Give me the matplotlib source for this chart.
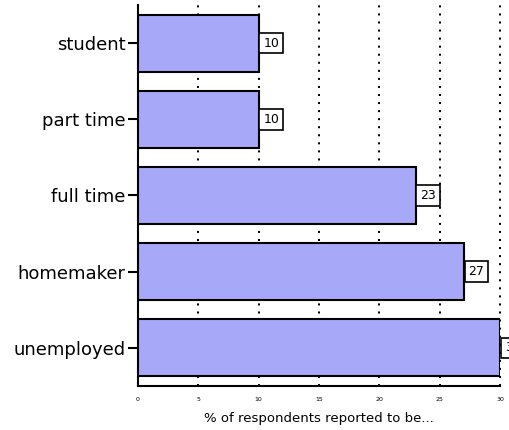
import matplotlib
matplotlib.use("Agg")
import matplotlib.pyplot as plt

# respondent categories, top to bottom
categories = ["student", "part time", "full time", "homemaker", "unemployed"]
percents = [10, 10, 23, 27, 30]
xticks = [0, 5, 10, 15, 20, 25, 30]

fig = plt.figure(figsize=(5.1, 4.3), dpi=100)
ax = fig.add_axes([138 / 510, 1 - 386 / 430, 362 / 510, 381 / 430])

ypos = list(range(len(categories)))
ax.barh(ypos, percents, height=0.75, color="#a8a8f8", edgecolor="black", linewidth=1.5, zorder=3)

# boxed value labels butting against the end of each bar
lab_fs = 9
pad = 0.3
for y, v in zip(ypos, percents):
    ax.annotate(f"{v}", xy=(v, y), xytext=(pad * lab_fs + 0.6, 0), textcoords="offset points",
                ha="left", va="center", fontsize=lab_fs, annotation_clip=False, zorder=4,
                bbox=dict(boxstyle=f"square,pad={pad}", facecolor="white", edgecolor="black", linewidth=1.2))

ax.set_xlim(0, 30)
ax.set_ylim(len(categories) - 0.5, -0.5)
ax.set_yticks(ypos)
ax.set_yticklabels(categories, fontsize=13)
ax.set_xticks(xticks)
ax.set_xticklabels([str(t) for t in xticks], fontsize=4.5)
ax.tick_params(axis="y", length=7, width=1.5, direction="out", pad=2)
ax.tick_params(axis="x", length=0, pad=8)

ax.xaxis.grid(True, color="black", linestyle=(0, (1, 3)), linewidth=1.45, zorder=0)
for gl in ax.get_xgridlines():
    gl.set_clip_on(False)  # keep the rightmost dotted line at full width
for side in ["top", "right"]:
    ax.spines[side].set_visible(False)
ax.spines["left"].set_linewidth(1.5)
ax.spines["bottom"].set_linewidth(1.5)

ax.set_xlabel("% of respondents reported to be...", fontsize=9.5, labelpad=7)

fig.savefig("out.png", dpi=100)
